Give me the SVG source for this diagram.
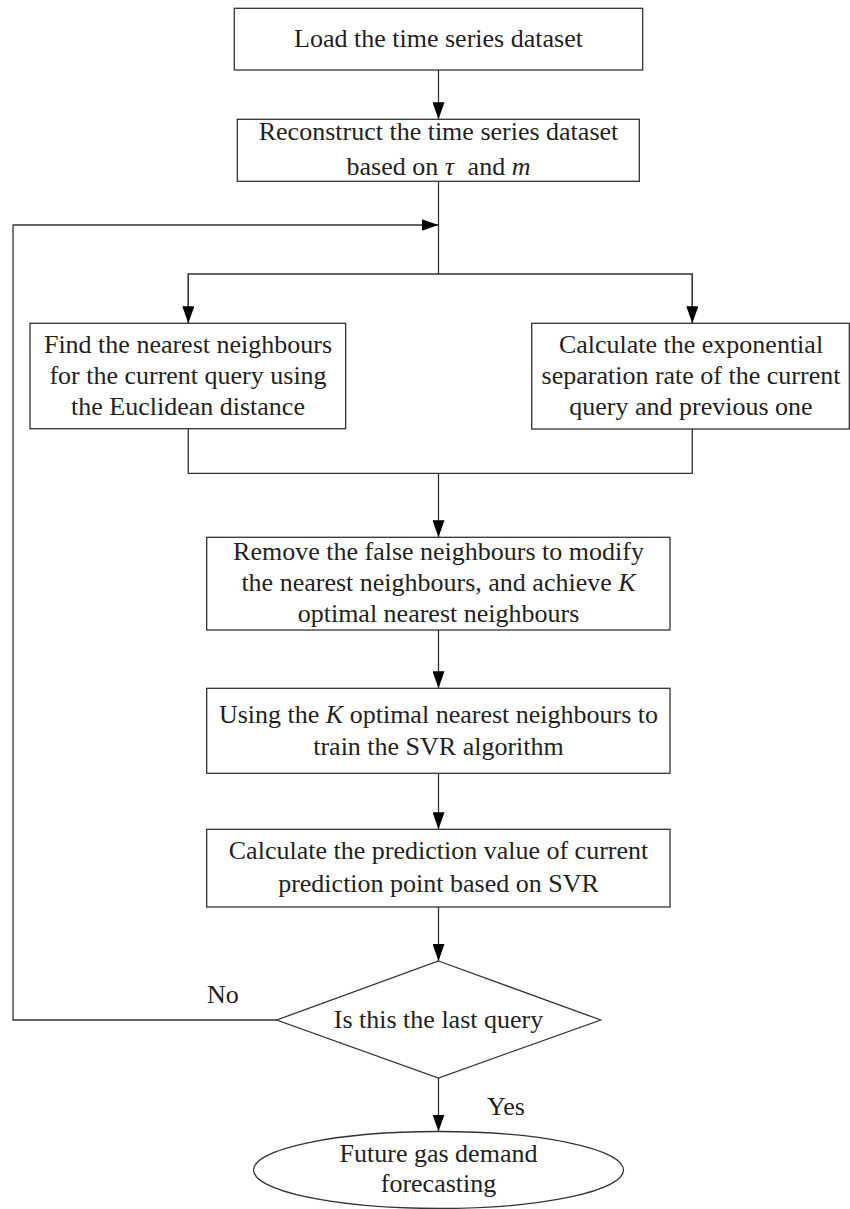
<svg xmlns="http://www.w3.org/2000/svg" width="850" height="1209" viewBox="0 0 850 1209">
<defs>
<marker id="ah" viewBox="0 0 17 12" refX="17" refY="6" markerWidth="17" markerHeight="12" markerUnits="userSpaceOnUse" orient="auto">
<path d="M0,0 L17,6 L0,12 Z" fill="#000"/>
</marker>
</defs>
<style>
.box{fill:#fff;stroke:#333;stroke-width:1.3}
.ln{fill:none;stroke:#333;stroke-width:1.3}
.t{font-family:"Liberation Serif","Times New Roman",serif;font-size:26px;fill:#231f20;text-anchor:middle}
.lbl{font-family:"Liberation Serif","Times New Roman",serif;font-size:26px;fill:#231f20}
.i{font-style:italic}
</style>
<rect width="850" height="1209" fill="#fff"/>
<g id="connectors">
<line class="ln" x1="438.5" y1="70" x2="438.5" y2="119.3" marker-end="url(#ah)"/>
<polyline class="ln" points="438.5,181.3 438.5,274"/>
<polyline class="ln" points="188.3,323.3 188.3,274 692.3,274 692.3,323.3"/>
<line class="ln" x1="188.3" y1="274" x2="188.3" y2="323.3" marker-end="url(#ah)"/>
<line class="ln" x1="692.3" y1="274" x2="692.3" y2="323.3" marker-end="url(#ah)"/>
<polyline class="ln" points="188.3,428.7 188.3,473.3 692.3,473.3 692.3,429"/>
<line class="ln" x1="438.5" y1="473.3" x2="438.5" y2="537.3" marker-end="url(#ah)"/>
<line class="ln" x1="438.5" y1="630" x2="438.5" y2="688.3" marker-end="url(#ah)"/>
<line class="ln" x1="438.5" y1="773.3" x2="438.5" y2="829.3" marker-end="url(#ah)"/>
<line class="ln" x1="438.5" y1="907" x2="438.5" y2="961" marker-end="url(#ah)"/>
<line class="ln" x1="438.5" y1="1078" x2="438.5" y2="1131.5" marker-end="url(#ah)"/>
<polyline class="ln" points="276.7,1020 13,1020 13,225 438.5,225" marker-end="url(#ah)"/>
<text class="lbl" x="207" y="1003">No</text>
<text class="lbl" x="487" y="1115">Yes</text>
</g>
<g id="n1">
<rect class="box" x="234.3" y="8.3" width="408.4" height="61.7"/>
<text class="t" x="438.5" y="47">Load the time series dataset</text>
</g>
<g id="n2">
<rect class="box" x="237.3" y="119.3" width="402" height="62"/>
<text class="t" x="438.5" y="139.5">Reconstruct the time series dataset</text>
<text class="t" x="438.5" y="175">based on <tspan class="i">τ</tspan><tspan dx="7"> and </tspan><tspan class="i">m</tspan></text>
</g>
<g id="n3">
<rect class="box" x="30" y="323.3" width="315.7" height="105.4"/>
<text class="t" x="188" y="353">Find the nearest neighbours</text>
<text class="t" x="188" y="384">for the current query using</text>
<text class="t" x="188" y="415">the Euclidean distance</text>
</g>
<g id="n4">
<rect class="box" x="531.7" y="323.3" width="317.6" height="105.7"/>
<text class="t" x="691" y="353">Calculate the exponential</text>
<text class="t" x="691" y="384">separation rate of the current</text>
<text class="t" x="691" y="415">query and previous one</text>
</g>
<g id="n5">
<rect class="box" x="206.7" y="537.3" width="463.3" height="92.7"/>
<text class="t" x="438.5" y="560">Remove the false neighbours to modify</text>
<text class="t" x="438.5" y="591">the nearest neighbours, and achieve <tspan class="i">K</tspan></text>
<text class="t" x="438.5" y="622">optimal nearest neighbours</text>
</g>
<g id="n6">
<rect class="box" x="206.7" y="688.3" width="463.3" height="85"/>
<text class="t" x="438.5" y="723">Using the <tspan class="i">K</tspan> optimal nearest neighbours to</text>
<text class="t" x="438.5" y="755">train the SVR algorithm</text>
</g>
<g id="n7">
<rect class="box" x="206.7" y="829.3" width="463.3" height="77.7"/>
<text class="t" x="438.5" y="859">Calculate the prediction value of current</text>
<text class="t" x="438.5" y="892">prediction point based on SVR</text>
</g>
<g id="n8">
<polygon class="box" points="438.5,961 600.7,1020 438.5,1078 276.7,1020"/>
<text class="t" x="438.5" y="1028">Is this the last query</text>
</g>
<g id="n9">
<ellipse class="box" cx="438.5" cy="1170" rx="185" ry="38.5"/>
<text class="t" x="438.5" y="1162">Future gas demand</text>
<text class="t" x="438.5" y="1192">forecasting</text>
</g>
</svg>
